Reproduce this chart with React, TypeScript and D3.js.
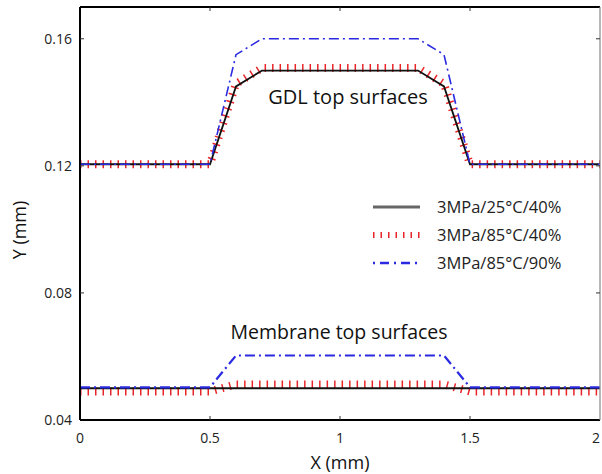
import React from "react";
import * as d3 from "d3";

// Surface profiles across the rib/channel section (X in mm, Y in mm)
const gdlX = [0, 0.5, 0.6, 0.7, 1.3, 1.4, 1.5, 2];
const gdl25c40 = [0.1205, 0.1205, 0.145, 0.15, 0.15, 0.145, 0.1205, 0.1205];
const gdl85c40 = [0.1205, 0.1205, 0.1458, 0.1508, 0.1508, 0.1458, 0.1205, 0.1205];
const gdl85c90 = [0.1205, 0.1205, 0.155, 0.16, 0.16, 0.155, 0.1205, 0.1205];

const memX = [0, 0.5, 0.6, 1.4, 1.5, 2];
const mem25c40 = [0.05, 0.05, 0.05, 0.05, 0.05, 0.05];
const mem85c40 = [0.049, 0.049, 0.0512, 0.0512, 0.049, 0.049];
const mem85c90 = [0.0503, 0.0503, 0.0603, 0.0603, 0.0503, 0.0503];

const seriesNames = ["3MPa/25°C/40%", "3MPa/85°C/40%", "3MPa/85°C/90%"];
const xTicks = [0, 0.5, 1, 1.5, 2];
const yTicks = [0.04, 0.08, 0.12, 0.16];

const W = 602;
const H = 474;
const m = { left: 80, right: 600, top: 7, bottom: 420 };

const x = d3.scaleLinear().domain([0, 2]).range([m.left, m.right]);
const y = d3.scaleLinear().domain([0.04, 0.17]).range([m.bottom, m.top]);

const line = d3
  .line<[number, number]>()
  .x((d) => x(d[0]))
  .y((d) => y(d[1]));

const zip = (xs: number[], ys: number[]) =>
  xs.map((v, i) => [v, ys[i]] as [number, number]);

const FONT = "'Open Sans', 'Noto Sans', sans-serif";
const BLUE = "#2a2ae0";
const RED = "#e8262a";

const styles = [
  { stroke: "#111", width: 1.8, dash: undefined as string | undefined },
  { stroke: RED, width: 8, dash: "1.5,6" },
  { stroke: BLUE, width: 1.6, dash: "10,4,2,4" },
];

export default function App() {
  const gdl = [gdl25c40, gdl85c40, gdl85c90];
  const mem = [mem25c40, mem85c40, mem85c90];
  const legendY = [207, 235, 263];
  const order = [1, 0, 2];
  return (
    <svg
      width={W}
      height={H}
      style={{ position: "absolute", left: 0, top: 0, background: "#fff" }}
      fontFamily={FONT}
    >
      <defs>
        <clipPath id="plot">
          <rect x={m.left} y={m.top} width={m.right - m.left} height={m.bottom - m.top} />
        </clipPath>
      </defs>

      <g clipPath="url(#plot)">
        {order.map((i) => (
          <g key={i}>
            <path
              d={line(zip(gdlX, gdl[i])) || ""}
              fill="none"
              stroke={styles[i].stroke}
              strokeWidth={styles[i].width}
              strokeDasharray={styles[i].dash}
            />
            <path
              d={line(zip(memX, mem[i])) || ""}
              fill="none"
              stroke={styles[i].stroke}
              strokeWidth={i === 2 ? 2.2 : styles[i].width}
              strokeDasharray={styles[i].dash}
            />
          </g>
        ))}
      </g>

      {/* frame */}
      <line x1={m.left} x2={m.right} y1={m.top} y2={m.top} stroke="#000" strokeWidth={2.2} />
      <line x1={m.left} x2={m.right} y1={m.bottom} y2={m.bottom} stroke="#000" strokeWidth={2.2} />
      <line x1={m.left} x2={m.left} y1={m.top} y2={m.bottom} stroke="#000" strokeWidth={2} />
      <line x1={m.right} x2={m.right} y1={m.top} y2={m.bottom} stroke="#888" strokeWidth={1.2} />

      {/* ticks */}
      {xTicks.slice(1, -1).map((t) => (
        <g key={"xt" + t}>
          <line x1={x(t)} x2={x(t)} y1={m.bottom} y2={m.bottom - 4} stroke="#333" />
          <line x1={x(t)} x2={x(t)} y1={m.top} y2={m.top + 4} stroke="#333" />
        </g>
      ))}
      {yTicks.slice(1).map((t) => (
        <g key={"yt" + t}>
          <line x1={m.left} x2={m.left + 4} y1={y(t)} y2={y(t)} stroke="#333" />
          <line x1={m.right} x2={m.right - 4} y1={y(t)} y2={y(t)} stroke="#333" />
        </g>
      ))}

      {/* tick labels */}
      {xTicks.map((t, i) => (
        <text
          key={"xl" + t}
          x={i === xTicks.length - 1 ? x(t) - 4 : x(t)}
          y={443}
          fontSize={14}
          textAnchor="middle"
          fill="#222"
        >
          {d3.format("")(t)}
        </text>
      ))}
      {yTicks.map((t) => (
        <text key={"yl" + t} x={72} y={y(t) + 5} fontSize={14} textAnchor="end" fill="#222">
          {d3.format(".2f")(t)}
        </text>
      ))}

      {/* axis titles */}
      <text x={340} y={469} fontSize={18} textAnchor="middle" fill="#111">
        X (mm)
      </text>
      <text
        transform={`translate(26,230) rotate(-90)`}
        fontSize={18}
        textAnchor="middle"
        fill="#111"
      >
        Y (mm)
      </text>

      {/* annotations */}
      <text x={348} y={104} fontSize={20} textAnchor="middle" fill="#111">
        GDL top surfaces
      </text>
      <text x={339} y={339} fontSize={19.5} textAnchor="middle" fill="#111">
        Membrane top surfaces
      </text>

      {/* legend */}
      {seriesNames.map((name, i) => (
        <g key={name}>
          <line
            x1={373}
            x2={420}
            y1={legendY[i]}
            y2={legendY[i]}
            stroke={i === 0 ? "#666" : styles[i].stroke}
            strokeWidth={i === 0 ? 3 : i === 1 ? 6 : 2.4}
            strokeDasharray={i === 0 ? undefined : i === 1 ? "1.5,6" : "2,5,9,5"}
          />
          <text x={437} y={legendY[i] + 6} fontSize={16.5} fill="#222">
            {name}
          </text>
        </g>
      ))}
    </svg>
  );
}
